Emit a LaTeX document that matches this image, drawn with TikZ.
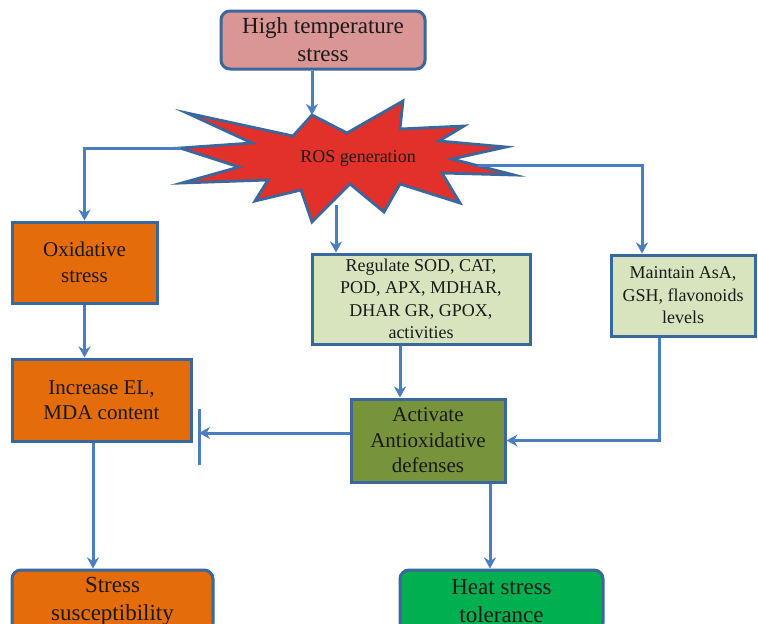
\documentclass[tikz,border=0pt]{standalone}
\usepackage{fontspec}
\setmainfont{Liberation Serif}
\usetikzlibrary{arrows.meta}
\definecolor{bdr}{HTML}{3A679C}
\definecolor{arrc}{HTML}{4A7EC0}
\definecolor{pinkfill}{HTML}{D99694}
\definecolor{orangefill}{HTML}{E46C0A}
\definecolor{palegreen}{HTML}{D7E4BD}
\definecolor{olivefill}{HTML}{77933C}
\definecolor{greenfill}{HTML}{00B050}
\definecolor{starred}{HTML}{E2302A}
\definecolor{txt}{HTML}{1A1A1A}
\tikzset{
  box/.style={draw=bdr, line width=3pt, align=center, inner sep=0pt, text=txt},
  rbox/.style={box, rounded corners=9pt},
  big/.style={font=\fontsize{23}{28}\selectfont},
  mid/.style={font=\fontsize{21}{25.5}\selectfont},
  small/.style={font=\fontsize{18}{22.5}\selectfont},
  arr/.style={draw=arrc, line width=3pt, -{Stealth[length=11pt,width=12pt,inset=3.5pt]}},
  plain/.style={draw=arrc, line width=3pt},
}
\begin{document}
\begin{tikzpicture}[x=1pt,y=-1pt]
\useasboundingbox (0,0) rectangle (758,624);
\clip (0,0) rectangle (758,624);
\fill[white] (0,0) rectangle (758,624);

% boxes
\node[rbox, big, fill=pinkfill, minimum width=204pt, minimum height=58pt] (hts) at (323,40) {High temperature\\stress};
\node[box, mid, fill=orangefill, minimum width=145pt, minimum height=81pt] (oxid) at (84.5,262.5) {Oxidative\\stress};
\node[box, mid, fill=orangefill, minimum width=179pt, minimum height=82pt] (incr) at (101.5,400) {Increase EL,\\MDA content};
\node[box, small, fill=palegreen, minimum width=218pt, minimum height=90pt] (reg) at (421,299) {Regulate SOD, CAT,\\POD, APX, MDHAR,\\DHAR GR, GPOX,\\activities};
\node[box, small, fill=palegreen, minimum width=144pt, minimum height=81pt] (main) at (683,295.5) {Maintain AsA,\\GSH, flavonoids\\levels};
\node[box, mid, fill=olivefill, minimum width=154pt, minimum height=83pt] (act) at (428,440.5) {Activate\\Antioxidative\\defenses};
\node[rbox, big, fill=orangefill, minimum width=201pt, minimum height=62pt] (susc) at (112.5,601) {Stress\\susceptibility};
\node[rbox, big, fill=greenfill, minimum width=203pt, minimum height=62pt] (tol) at (501.5,601) {Heat stress\\tolerance};

% burst
\draw[draw=bdr, fill=starred, line width=2.8pt, line join=miter, miter limit=20]
  (312,115) -- (347,133) -- (403,101) -- (400,129) -- (464,126) -- (439,141)
  -- (506,147) -- (452,159) -- (514,175) -- (442,173) -- (460,203) -- (400,184)
  -- (384,212) -- (350,184) -- (312,222) -- (301,190) -- (255,201) -- (268,180)
  -- (182,183) -- (239,167) -- (180,148) -- (252,143) -- (187,113) -- (293,136) -- cycle;
\node[small, text=txt] (ros) at (358,158) {ROS generation};
\coordinate (rosT) at (312,115);
\coordinate (rosL) at (181,148);
\coordinate (rosR) at (478,165);
\coordinate (rosB) at (336,205);
\coordinate (bar) at (199,433);

% connectors
\draw[arr] (rosT |- hts.south) -- (rosT);
\draw[arr] (rosL) -| (oxid.north);
\draw[arr] (oxid.south) -- (oxid.south |- incr.north);
\draw[arr] ([xshift=-8.5pt]incr.south) -- ([xshift=-8.5pt]incr.south |- susc.north);
\draw[arr] (rosB) -- (rosB |- reg.north);
\draw[arr] (rosR) -| ([xshift=-41pt]main.north);
\draw[arr] ([xshift=-21pt]reg.south) -- ([xshift=-21pt]reg.south |- act.north);
\draw[arr] ([xshift=-24pt]main.south) |- (act.east);
\draw[arr] ([xshift=62pt]act.south) -- ([xshift=62pt]act.south |- tol.north);
\draw[arr] (act.west |- bar) -- (bar);
\draw[plain] ([yshift=-32pt]bar) -- ([yshift=24pt]bar);
\end{tikzpicture}
\end{document}
